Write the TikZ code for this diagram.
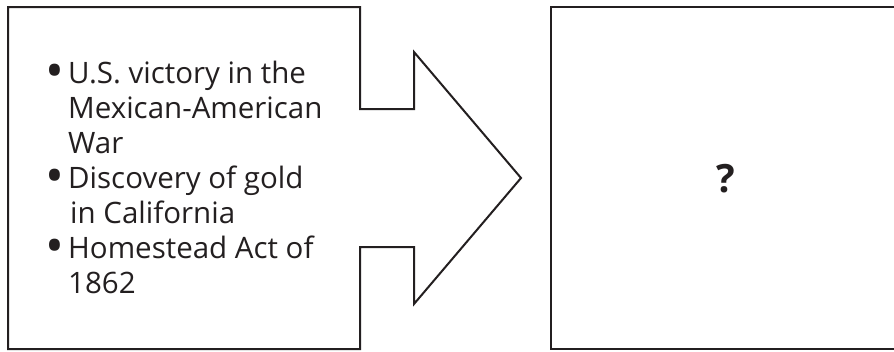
\documentclass[tikz,border=0pt]{standalone}
\usepackage{fontspec}
\setmainfont{Open Sans}
\definecolor{ink}{HTML}{231F20}
\newcommand{\blt}{\llap{\raisebox{-5.5pt}{\scalebox{1.7}{\textbullet}}\hspace{4pt}}}
\begin{document}
\begin{tikzpicture}[x=1pt,y=-1pt,
  outline/.style={draw=ink,line width=2pt,line join=miter},
  listtext/.style={font=\fontsize{29.5}{35}\selectfont,text=ink,align=left,inner sep=0pt,anchor=base west},
  qmark/.style={font=\fontsize{39}{40}\selectfont\bfseries,text=ink,inner sep=0pt}]
\useasboundingbox (0,0) rectangle (894,351);
% left box merged with the arrow
\coordinate (a1) at (8,7);
\coordinate (a2) at (360,7);
\coordinate (a3) at (360,109);
\coordinate (a4) at (414,109);
\coordinate (a5) at (414,52);
\coordinate (tip) at (521,178);
\coordinate (a6) at (414,304);
\coordinate (a7) at (414,247);
\coordinate (a8) at (360,247);
\coordinate (a9) at (360,349);
\coordinate (a10) at (8,349);
\draw[outline] (a1) -- (a2) -- (a3) -- (a4) -- (a5) -- (tip) -- (a6) -- (a7) -- (a8) -- (a9) -- (a10) -- cycle;
% right box (cut by the right edge)
\coordinate (b1) at (900,7);
\coordinate (b2) at (551,7);
\coordinate (b3) at (551,349);
\coordinate (b4) at (900,349);
\draw[outline] (b1) -- (b2) -- (b3) -- (b4);
% texts
\node[listtext] (list) at (68,293) {\blt U.S. victory in the\\
Mexican-American\\
War\\
\blt Discovery of gold\\
\hspace*{2pt}in California\\
\blt Homestead Act of\\
1862};
\node[qmark] (q) at (726,179) {?};
\end{tikzpicture}
\end{document}
